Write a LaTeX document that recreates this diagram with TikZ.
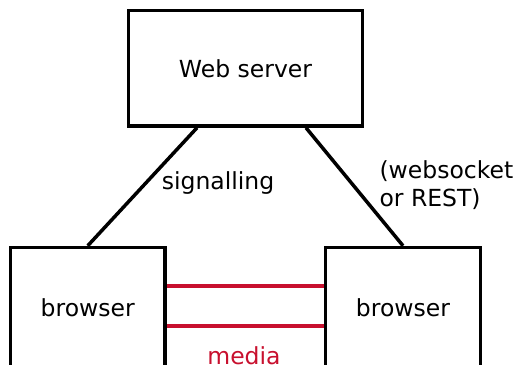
\documentclass[tikz,border=0pt]{standalone}
\usepackage{fontspec}
\setmainfont{DejaVu Sans}
\usetikzlibrary{positioning}

\definecolor{mediared}{RGB}{200,16,46}

\tikzset{
  box/.style={draw, line width=3.5pt, minimum width=#1, inner sep=0pt},
  link/.style={line width=3.5pt},
  medialink/.style={line width=3.5pt, draw=mediared},
}

\begin{document}
\begin{tikzpicture}[x=1pt,y=-1pt,font=\fontsize{23.5}{28.5}\selectfont]
 \clip (0,0) rectangle (516,364);
 \useasboundingbox (0,0) rectangle (516,364);
 %
 \node[box=234pt, minimum height=115.5pt] (ws) at (245.5,68.25) {Web server};
 \node[box=154.5pt, minimum height=120pt] (lb) at (87.75,307.5) {browser};
 \node[box=155pt, minimum height=120pt] (rb) at (403,307.5) {browser};
 %
 \draw[link] ([xshift=-48.5pt]ws.south) -- (lb.north);
 \draw[link] ([xshift=60.5pt]ws.south) -- (rb.north);
 \node (sig) at (218,183) {signalling};
 \node[align=left, anchor=west] (rest) at (376,185) {(websocket\\or REST)};
 %
 \draw[medialink] ([yshift=21.5pt]lb.east) -- ([yshift=21.5pt]rb.west);
 \draw[medialink] ([yshift=-18.5pt]lb.east) -- ([yshift=-18.5pt]rb.west);
 \node[text=mediared] (media) at (244,356) {media};
\end{tikzpicture}
\end{document}
